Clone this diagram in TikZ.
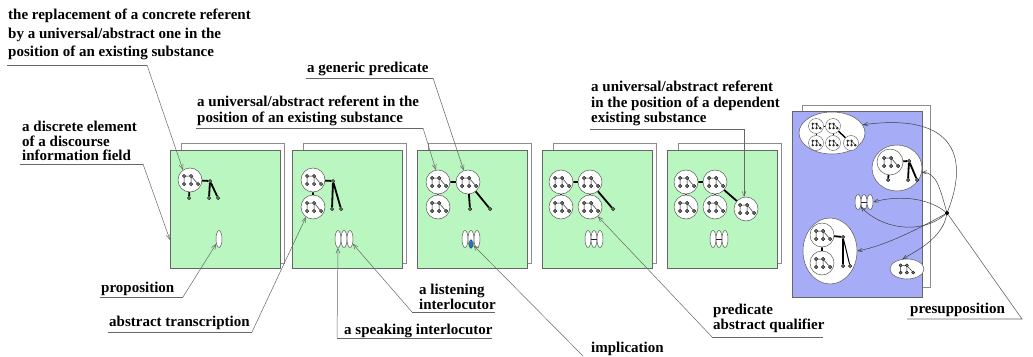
\documentclass[tikz,border=0pt]{standalone}
\usepackage{fontspec}
\setmainfont{Liberation Serif}
\usetikzlibrary{shapes.geometric}
\usetikzlibrary{arrows.meta}

\definecolor{fieldgreen}{RGB}{185,246,192}
\definecolor{fieldblue}{RGB}{166,172,246}
\definecolor{markblue}{RGB}{20,120,205}

% referent icon: prefix, x, y, scale
\newcommand{\refgraph}[4]{%
  \foreach \k/\dx/\dy in {a/-6/-4, b/1/-4, c/-6/4, d/1/4, e/8/4}
    \node[dotnode, minimum size=#4*3.5pt] (#1\k) at ({#2+#4*\dx},{#3+#4*\dy}) {};
  \draw[twig] (#1a) -- (#1b) (#1a) -- (#1c) (#1b) -- (#1d) (#1b) -- (#1e);
}
% sheet pair: name, left x
\newcommand{\sheetpair}[2]{%
  \node[backsheet] (#1back) at ({#2+11},143) {};
  \node[frontsheet] (#1) at (#2,150) {};
}

\tikzset{
  backsheet/.style={draw=black!45, fill=white, line width=0.7pt, minimum width=103pt, minimum height=120pt, inner sep=0pt, anchor=north west},
  frontsheet/.style={draw=black!60, fill=fieldgreen, line width=0.7pt, minimum width=110pt, minimum height=118pt, inner sep=0pt, anchor=north west},
  refcircle/.style={circle, draw=black!65, fill=white, line width=0.5pt, minimum size=24pt, inner sep=0pt},
  smallcircle/.style={circle, draw=black!65, fill=white, line width=0.4pt, minimum size=15pt, inner sep=0pt},
  bubble/.style={ellipse, draw=black!65, fill=white, line width=0.5pt, inner sep=0pt},
  dotnode/.style={circle, draw=black, fill=black!55, line width=0.35pt, minimum size=3.5pt, inner sep=0pt},
  drop/.style={ellipse, draw=black!70, fill=white, line width=0.45pt, minimum width=6pt, minimum height=17pt, inner sep=0pt},
  twig/.style={draw=black!85, line width=0.5pt},
  bond/.style={draw=black, line width=1.8pt},
  lead/.style={draw=black!60, line width=0.5pt, -{Straight Barb[length=5pt,width=4pt]}},
  presup/.style={draw=black!75, line width=0.5pt, -{Straight Barb[length=4.5pt,width=3.5pt]}},
  uline/.style={draw=black!60, line width=0.6pt},
  tagtext/.style={font=\fontsize{15}{#1}\selectfont\bfseries, align=left, anchor=north west, inner sep=0pt},
  tagtext/.default=16
}

\begin{document}
\begin{tikzpicture}[x=1pt,y=-1pt]
  \useasboundingbox (0,0) rectangle (1033,356);

  % Sheets
  \sheetpair{p1}{170}
  \sheetpair{p2}{292}
  \sheetpair{p3}{417}
  \sheetpair{p4}{542}
  \sheetpair{p5}{667}
  \node[backsheet, minimum width=128pt, minimum height=182pt] (p6back) at (802,105) {};
  \node[frontsheet, fill=fieldblue, minimum width=130pt, minimum height=186pt] (p6) at (792,111) {};

  % Sheet 1
  \node[refcircle] (c1) at (190,180) {};
  \refgraph{g1}{190}{180}{1}
  \node[dotnode] (q1) at (210,181) {};
  \node[dotnode] (s1) at (189,198) {};
  \node[dotnode] (k1a) at (209,198) {};
  \node[dotnode] (k1b) at (218,198) {};
  \draw[bond] (c1) -- (q1) (c1) -- (s1) (q1) -- (k1a) (q1) -- (k1b);
  \node[drop] (e1) at (219,239) {};
  \coordinate (p1edge) at (170,240);

  % Sheet 2
  \node[refcircle] (c2a) at (313,180) {};
  \node[refcircle] (c2b) at (313,207) {};
  \refgraph{g2a}{313}{180}{1}
  \refgraph{g2b}{313}{207}{1}
  \node[dotnode] (q2) at (333,181) {};
  \node[dotnode] (k2a) at (332,209) {};
  \node[dotnode] (k2b) at (341,209) {};
  \draw[bond] (c2a) -- (c2b) (c2a) -- (q2) (q2) -- (k2a) (q2) -- (k2b);
  \node[drop] (e2a) at (338,239) {};
  \node[drop] (e2b) at (344,239) {};
  \node[drop] (e2c) at (350,239) {};

  % Sheet 3
  \node[refcircle] (c3a) at (438,182) {};
  \node[refcircle] (c3b) at (468,182) {};
  \node[refcircle] (c3c) at (438,207) {};
  \refgraph{g3a}{438}{182}{1}
  \refgraph{g3b}{468}{182}{1}
  \refgraph{g3c}{438}{207}{1}
  \node[dotnode] (k3a) at (470,209) {};
  \node[dotnode] (k3b) at (490,209) {};
  \draw[bond] (c3a) -- (c3b) (c3a) -- (c3c) (c3b) -- (k3a) (c3b) -- (k3b);
  \node[drop] (e3a) at (465,239) {};
  \node[drop] (e3b) at (471,239) {};
  \node[drop] (e3c) at (477,239) {};
  \filldraw[fill=markblue, draw=black!80, line width=0.3pt] (471,244) ellipse (1.8 and 4.3);

  % Sheet 4
  \node[refcircle] (c4a) at (561,182) {};
  \node[refcircle] (c4b) at (590,182) {};
  \node[refcircle] (c4c) at (561,207) {};
  \node[refcircle] (c4d) at (590,207) {};
  \refgraph{g4a}{561}{182}{1}
  \refgraph{g4b}{590}{182}{1}
  \refgraph{g4c}{561}{207}{1}
  \refgraph{g4d}{590}{207}{1}
  \node[dotnode] (k4) at (613,209) {};
  \draw[bond] (c4a) -- (c4b) (c4a) -- (c4c) (c4b) -- (c4d) (c4b) -- (k4);
  \node[drop] (e4a) at (588,239) {};
  \node[drop] (e4b) at (594,239) {};
  \node[drop] (e4c) at (600,239) {};
  \draw[twig] (e4b.west) -- (e4b.east);

  % Sheet 5
  \node[refcircle] (c5a) at (686,182) {};
  \node[refcircle] (c5b) at (715,182) {};
  \node[refcircle] (c5c) at (686,207) {};
  \node[refcircle] (c5d) at (715,207) {};
  \node[refcircle] (c5e) at (746,209) {};
  \refgraph{g5a}{686}{182}{1}
  \refgraph{g5b}{715}{182}{1}
  \refgraph{g5c}{686}{207}{1}
  \refgraph{g5d}{715}{207}{1}
  \refgraph{g5e}{746}{209}{1}
  \draw[bond] (c5a) -- (c5b) (c5a) -- (c5c) (c5b) -- (c5d) (c5b) -- (c5e);
  \node[drop] (e5a) at (713,239) {};
  \node[drop] (e5b) at (719,239) {};
  \node[drop] (e5c) at (725,239) {};
  \draw[twig] (e5b.west) -- (e5b.east);

  % Sheet 6 (blue)
  \node[bubble, minimum width=66pt, minimum height=42pt] (E1) at (832,133) {};
  \node[smallcircle] (b1) at (816,126) {};
  \node[smallcircle] (b2) at (833,126) {};
  \node[smallcircle] (b3) at (816,143) {};
  \node[smallcircle] (b4) at (833,143) {};
  \node[smallcircle] (b5) at (851,143) {};
  \refgraph{h1}{816}{126}{0.55}
  \refgraph{h2}{833}{126}{0.55}
  \refgraph{h3}{816}{143}{0.55}
  \refgraph{h4}{833}{143}{0.55}
  \refgraph{h5}{851}{143}{0.55}
  \draw[bond, line width=1pt] (b1) -- (b2) (b1) -- (b3) (b2) -- (b4);
  \draw[bond, line width=1.4pt] (b2) -- (b5);

  \node[bubble, minimum width=50pt, minimum height=46pt] (E2) at (897,168) {};
  \node[refcircle, minimum size=26pt] (c6) at (890,162) {};
  \refgraph{g6}{890}{162}{1}
  \node[dotnode] (q6) at (909,161) {};
  \node[dotnode] (s6) at (888,180) {};
  \node[dotnode] (k6a) at (908,180) {};
  \node[dotnode] (k6b) at (917,180) {};
  \draw[bond] (c6) -- (q6) (c6) -- (s6) (q6) -- (k6a) (q6) -- (k6b);

  \node[drop, minimum height=15pt] (f1) at (858,202) {};
  \node[drop, minimum height=15pt] (f2) at (864,202) {};
  \node[drop, minimum height=15pt] (f3) at (870,202) {};
  \draw[twig] (f2.west) -- (f2.east);

  \node[bubble, minimum width=54pt, minimum height=66pt] (E3) at (830,251) {};
  \node[refcircle] (c7a) at (822,235) {};
  \node[refcircle] (c7b) at (822,263) {};
  \refgraph{g7a}{822}{235}{1}
  \refgraph{g7b}{822}{263}{1}
  \node[dotnode] (q7) at (843,237) {};
  \node[dotnode] (k7a) at (843,266) {};
  \node[dotnode] (k7b) at (850,266) {};
  \draw[bond] (c7a) -- (c7b) (c7a) -- (q7) (q7) -- (k7a);
  \draw[bond, line width=1pt] (q7) -- (k7b);

  \node[bubble, minimum width=34pt, minimum height=20pt] (E4) at (907,269) {};
  \refgraph{g8}{906}{269}{0.9}

  % Presupposition point
  \node[circle, fill=black, minimum size=4pt, inner sep=0pt] (P) at (947,213) {};
  \draw[presup] (P) .. controls (968,160) and (958,112) .. (E1.15);
  \draw[presup] (P) .. controls (940,188) and (936,172) .. (E2.-10);
  \draw[presup] (P) .. controls (925,196) and (895,196) .. (f3.east);
  \draw[presup] (P) .. controls (920,236) and (880,228) .. (f1.-60);
  \draw[presup] (P) .. controls (920,228) and (885,246) .. (E3.east);
  \draw[presup] (P) .. controls (942,238) and (918,250) .. (E4.115);

  % Text Node
  \node[tagtext=18.5] (t1) at (8,9) {the replacement of a concrete referent\\by a universal/abstract one in the\\position of an existing substance};
  \coordinate (u1a) at (7,65);
  \coordinate (u1b) at (147,65);
  \draw[uline] (u1a) -- (u1b);
  \draw[lead] (u1b) -- (c1.125);

  % Text Node
  \node[tagtext=14.5] (t2) at (22,121) {a discrete element\\of a discourse\\information field};
  \coordinate (u2a) at (20,164);
  \coordinate (u2b) at (143,164);
  \draw[uline] (u2a) -- (u2b);
  \draw[lead] (u2b) -- (p1edge);

  % Text Node
  \node[tagtext] (t3) at (101,282) {proposition};
  \coordinate (u3a) at (100,297);
  \coordinate (u3b) at (183,297);
  \draw[uline] (u3a) -- (u3b);
  \draw[lead] (u3b) -- (e1.-120);

  % Text Node
  \node[tagtext] (t4) at (109,316) {abstract transcription};
  \coordinate (u4a) at (108,332);
  \coordinate (u4b) at (252,332);
  \draw[uline] (u4a) -- (u4b);
  \draw[lead] (u4b) -- (c2b.-125);

  % Text Node
  \node[tagtext] (t5) at (344,324) {a speaking interlocutor};
  \coordinate (u5a) at (337,338);
  \coordinate (u5b) at (492,338);
  \draw[uline] (u5a) -- (u5b);
  \draw[lead] (u5a) -- (e2a.south);

  % Text Node
  \node[tagtext=13.5] (t6) at (419,284) {a listening\\interlocutor};
  \coordinate (u6a) at (412,312);
  \coordinate (u6b) at (495,312);
  \draw[uline] (u6a) -- (u6b);
  \draw[lead] (u6a) -- (e2c.-60);

  % Text Node
  \node[tagtext] (t7) at (307,62) {a generic predicate};
  \coordinate (u7a) at (306,78);
  \coordinate (u7b) at (433,78);
  \draw[uline] (u7a) -- (u7b);
  \draw[lead] (u7b) -- (c3b.110);

  % Text Node
  \node[tagtext] (t8) at (197,96) {a universal/abstract referent in the\\position of an existing substance};
  \coordinate (u8a) at (196,128);
  \coordinate (u8b) at (423,128);
  \draw[uline] (u8a) -- (u8b);
  \draw[lead] (u8b) -- (c3a.100);

  % Text Node
  \node[tagtext=15.5] (t9) at (591,81) {a universal/abstract referent\\in the position of a dependent\\existing substance};
  \coordinate (u9a) at (590,129);
  \coordinate (u9b) at (744,129);
  \draw[uline] (u9a) -- (u9b);
  \draw[lead] (u9b) -- (u9b |- c5e.north);

  % Text Node
  \node[tagtext=15] (t10) at (713,304) {predicate\\abstract qualifier};
  \coordinate (u10a) at (712,337);
  \coordinate (u10b) at (823,337);
  \draw[uline] (u10a) -- (u10b);
  \draw[lead] (u10a) -- (c4d.-50);

  % Text Node
  \node[tagtext] (t11) at (591,342) {implication};
  \coordinate (u11a) at (583,356);
  \draw[lead] (u11a) -- (e3b.-70);

  % Text Node
  \node[tagtext] (t12) at (910,303) {presupposition};
  \coordinate (u12a) at (907,319);
  \coordinate (u12b) at (1022,319);
  \draw[uline] (P) -- (u12b) -- (u12a);
\end{tikzpicture}
\end{document}
